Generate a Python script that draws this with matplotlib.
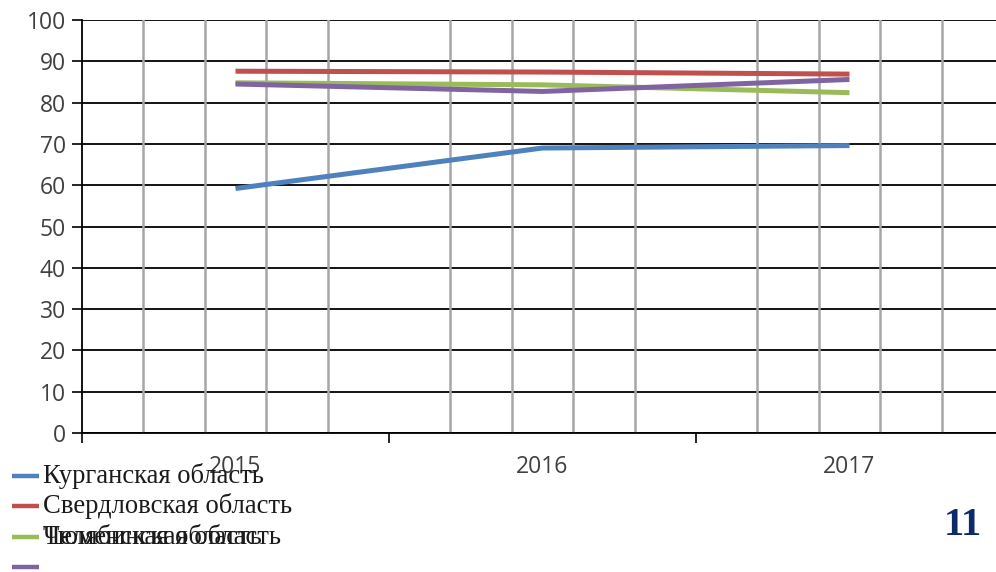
import matplotlib
matplotlib.use("Agg")
import matplotlib.pyplot as plt
from matplotlib.lines import Line2D
from matplotlib.ticker import FixedLocator

W, H = 996, 572

years = ["2015", "2016", "2017"]
regions = [
    "Курганская область",
    "Свердловская область",
    "Тюменская область",
    "Челябинская область",
]
kurgan = [59.2, 69.0, 69.6]
sverdlovsk = [87.6, 87.4, 86.9]
tyumen = [84.8, 84.3, 82.4]
chelyabinsk = [84.5, 82.7, 85.6]
series = [kurgan, sverdlovsk, tyumen, chelyabinsk]
colors = ["#4F81BD", "#C0504D", "#9BBB59", "#8064A2"]
yticks = list(range(0, 101, 10))


def fx(x):
    return x / W


def fy(y):
    return 1 - y / H


fig = plt.figure(figsize=(W / 100, H / 100), dpi=100)
# plot area: left at 82px, bottom (value 0) at 433px, top (100) at 20px, runs off the right edge
cat_px = 307.0
ax = fig.add_axes([fx(82), fy(433), (W - 82) / W, (433 - 20) / H])
ax.set_xlim(-0.5, -0.5 + (W - 82) / cat_px)
ax.set_ylim(0, 100)

x = list(range(len(years)))
for vals, c in zip(series, colors):
    ax.plot(x, vals, color=c, lw=3.6, solid_capstyle="butt", zorder=3)

# grey vertical grid at fifths of each category, skipping the category boundaries
for k in range(1, 16):
    if k % 5 == 0:
        continue
    ax.axvline(-0.5 + k / 5, color="#A6A6A6", lw=1.8, zorder=1)

ax.set_yticks(yticks)
ax.yaxis.grid(True, color="black", lw=1.3, zorder=2)
ax.set_axisbelow(True)
ax.tick_params(axis="y", length=7.5, width=1.2, color="black", pad=4,
               labelsize=16.5, labelcolor="#404040")
for lab in ax.get_yticklabels():
    lab.set_family("Open Sans")

ax.set_xticks(x)
ax.set_xticklabels(years, family="Open Sans", fontsize=16.5, color="#404040")
ax.xaxis.set_minor_locator(FixedLocator([-0.5, 0.5, 1.5, 2.5]))
ax.tick_params(axis="x", which="major", length=0, pad=15.5)
ax.tick_params(axis="x", which="minor", length=7.5, width=1.2, color="black")

for s in ["top", "right"]:
    ax.spines[s].set_visible(False)
for s in ["left", "bottom"]:
    ax.spines[s].set_color("black")
    ax.spines[s].set_linewidth(1.3)

# legend drawn as in the source: fourth label spills onto the third row
row_y = [476, 506, 537, 567]
label_rows = [0, 1, 2, 2]
for i, (name, c) in enumerate(zip(regions, colors)):
    fig.add_artist(Line2D([fx(12), fx(39)], [fy(row_y[i]), fy(row_y[i])],
                          color=c, lw=3.2, solid_capstyle="butt"))
    fig.text(fx(43), fy(row_y[label_rows[i]] + 7), name, family="Liberation Serif",
             fontsize=19.2, color="#1a1a1a", va="baseline", ha="left")

fig.text(fx(982), fy(535), "11", family="Liberation Serif", fontweight="bold",
         fontsize=29, color="#0D2A6B", ha="right", va="baseline")

fig.savefig("out.png", dpi=100)
